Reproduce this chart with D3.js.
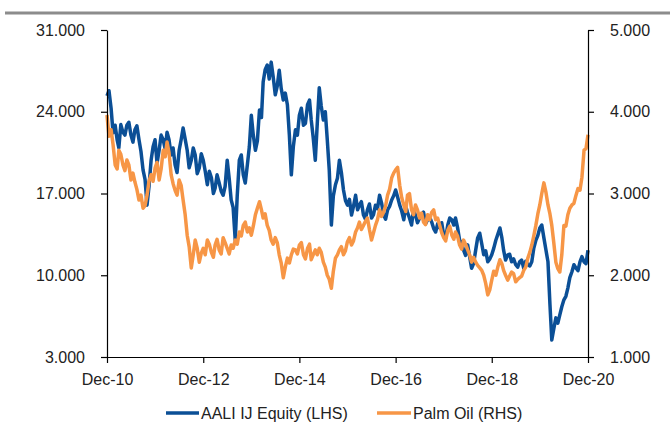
<!DOCTYPE html>
<html>
<head>
<meta charset="utf-8">
<script src="https://cdn.jsdelivr.net/npm/d3@7"></script>
<style>
  html, body { margin: 0; padding: 0; background: #fff; }
  svg { display: block; font-family: "Liberation Sans", Arial, sans-serif; }
</style>
</head>
<body>
<svg id="chart" width="670" height="429"></svg>
<script>
// Half-monthly closes (1st and 16th), Dec-2010 .. Dec-2020
const startMonth = "2010-12";
const aaliEquity = [
  25350, 25800, 24300, 22200, 22850, 21600, 20900, 22900, 22250, 22000,
  22850, 23100, 22000, 21400, 22450, 22800, 21600, 20600, 19000, 18200,
  16000, 17600, 19850, 21000, 21600, 19600, 20700, 22000, 21600, 20800,
  22250, 21600, 20300, 20900, 19450, 18800, 20700, 21600, 22600, 21700,
  20700, 19200, 19850, 20900, 20300, 18700, 19200, 20400, 19850, 18900,
  17750, 18900, 18350, 17000, 17450, 18600, 17900, 17200, 16850, 17600,
  19850, 18300, 16450, 15800, 13000, 16800, 19850, 20300, 18600, 17900,
  19450, 21000, 23700, 22000, 20700, 21500, 24150, 23500, 26550, 27600,
  28000, 26800, 28250, 27000, 25450, 26200, 27550, 26000, 25000, 25600,
  24600, 22000, 18600, 21000, 22450, 22000, 23700, 24300, 22850, 23000,
  24600, 25000, 23300, 21800, 19850, 23000, 26050, 24500, 23300, 24000,
  21600, 19000, 14300, 16800, 17750, 18300, 19850, 18800, 17300, 16400,
  16000, 16500, 15150, 15900, 16850, 15600, 16000, 16300, 15150, 14800,
  15600, 16100, 14900, 15200, 16000, 15700, 16850, 16200, 15150, 14800,
  15600, 15900, 16450, 16800, 17300, 16700, 16000, 15500, 14750, 15900,
  15400, 14900, 14300, 15600, 15150, 14500, 14900, 15100, 15400, 14400,
  14750, 15000, 14550, 14000, 13700, 14400, 14050, 14500, 13450, 13200,
  14300, 14900, 14750, 14300, 14900, 14100, 13000, 12800, 12150, 11700,
  12600, 11600, 10600, 11000, 12150, 13200, 13600, 12700, 11750, 12100,
  11150, 11400, 11750, 12300, 13000, 13500, 14050, 13200, 12150, 11300,
  11750, 11800, 11150, 11400, 10900, 10700, 11150, 11300, 10600, 11200,
  10900, 10800, 11150, 12300, 13000, 13400, 14050, 14300, 13200, 12200,
  11150, 7500, 4450, 5400, 6350, 5900, 6600, 7300, 7900, 8200,
  8900, 9800, 10300, 10900, 10600, 10400, 11150, 11600, 11150, 11000,
  12150
];
const palmOil = [
  3960, 3700, 3780, 3600, 3350, 3300, 3530, 3480, 3350, 3280,
  3410, 3350, 3165, 3250, 3140, 3050, 2920, 2980, 2820, 2850,
  2980, 3150, 3230, 3150, 3310, 3380, 3165, 3300, 3530, 3450,
  3630, 3500, 3230, 3120, 3040, 2980, 3165, 3100, 2920, 2750,
  2490, 2350, 2090, 2250, 2430, 2330, 2160, 2270, 2330, 2250,
  2430, 2380, 2280, 2220, 2370, 2440, 2310, 2260, 2460, 2400,
  2330, 2260, 2370, 2330, 2430, 2380, 2530, 2480, 2610, 2650,
  2530, 2580, 2490, 2600, 2740, 2820, 2900, 2800, 2700, 2750,
  2610, 2550, 2430, 2380, 2460, 2400, 2250, 2150, 1970, 2100,
  2210, 2150, 2250, 2320, 2310, 2260, 2370, 2400, 2250, 2200,
  2330, 2380, 2190, 2250, 2310, 2250, 2330, 2280, 2160, 2100,
  2000, 1950, 1840, 2050, 2210, 2250, 2310, 2350, 2250, 2300,
  2410, 2460, 2370, 2420, 2530, 2580, 2650, 2560, 2610, 2660,
  2700, 2560, 2430, 2520, 2610, 2680, 2800, 2720, 2770, 2850,
  2980, 3050, 3190, 3250, 3290, 3320, 3100, 2950, 2860, 2780,
  2980, 3000, 2800, 2740, 2860, 2800, 2700, 2760, 2650, 2620,
  2740, 2680, 2770, 2800, 2680, 2700, 2610, 2520, 2460, 2420,
  2550, 2600, 2490, 2440, 2530, 2480, 2370, 2320, 2430, 2380,
  2310, 2250, 2160, 2220, 2160, 2120, 2090, 2060, 2000, 1900,
  1760, 1820, 1940, 2050, 2000, 2100, 2190, 2140, 2060, 2000,
  1940, 1990, 2040, 2020, 1920, 1950, 1970, 1990, 2060, 2100,
  2210, 2280, 2370, 2480, 2610, 2750, 2860, 3000, 3130, 3020,
  2860, 2750, 2610, 2400, 2160, 2080, 2040, 2250, 2610, 2600,
  2740, 2820, 2860, 2880, 2980, 3060, 3040, 3200, 3530, 3550,
  3720
];
const xTickLabels = ["Dec-10", "Dec-12", "Dec-14", "Dec-16", "Dec-18", "Dec-20"];
const leftTicks = [3000, 10000, 17000, 24000, 31000];
const rightTicks = [1000, 2000, 3000, 4000, 5000];
const seriesNames = ["AALI IJ Equity (LHS)", "Palm Oil (RHS)"];
const seriesColors = ["#0b4f96", "#f79646"];

const svg = d3.select("#chart");
const plot = { left: 107, right: 588, top: 30, bottom: 357 };

const parseMonth = d3.timeParse("%Y-%m");
const parseTick = d3.timeParse("%b-%y");
const start = parseMonth(startMonth);
// even index = 1st of the month, odd index = 16th
const dates = aaliEquity.map((_, j) => {
  const m = d3.timeMonth.offset(start, Math.floor(j / 2));
  return j % 2 ? d3.timeDay.offset(m, 15) : m;
});
const tickDates = xTickLabels.map(parseTick);

const x = d3.scaleTime()
  .domain([tickDates[0], tickDates[tickDates.length - 1]])
  .range([plot.left, plot.right]);
const yL = d3.scaleLinear().domain([3000, 31000]).range([plot.bottom, plot.top]);
const yR = d3.scaleLinear().domain([1000, 5000]).range([plot.bottom, plot.top]);

const fmt = d => d3.format(",")(d).replace(/,/g, ".");

// header rule
svg.append("line")
  .attr("x1", 5).attr("x2", 670).attr("y1", 13).attr("y2", 13)
  .attr("stroke", "#8c8c8c").attr("stroke-width", 3);

// series lines: the secondary-axis series sits on top
const lineL = d3.line().x((d, i) => x(dates[i])).y(d => yL(d));
const lineR = d3.line().x((d, i) => x(dates[i])).y(d => yR(d));

svg.append("path").datum(aaliEquity)
  .attr("d", lineL).attr("fill", "none")
  .attr("stroke", seriesColors[0]).attr("stroke-width", 3.5)
  .attr("stroke-linejoin", "round");
svg.append("path").datum(palmOil)
  .attr("d", lineR).attr("fill", "none")
  .attr("stroke", seriesColors[1]).attr("stroke-width", 3.5)
  .attr("stroke-linejoin", "round");

// axes
function styleAxis(g) {
  g.selectAll("path.domain").attr("stroke", "#000").attr("stroke-width", 1.2);
  g.selectAll(".tick line").attr("stroke", "#000").attr("stroke-width", 1.2);
  g.selectAll("text")
    .attr("fill", "#222")
    .style("font-size", "16px")
    .style("font-family", "'Liberation Sans', Arial, sans-serif");
}

svg.append("g")
  .attr("transform", `translate(${plot.left},0)`)
  .call(d3.axisLeft(yL).tickValues(leftTicks).tickFormat(fmt)
    .tickSize(6).tickSizeOuter(0).tickPadding(16))
  .call(styleAxis);

svg.append("g")
  .attr("transform", `translate(${plot.right},0)`)
  .call(d3.axisRight(yR).tickValues(rightTicks).tickFormat(fmt)
    .tickSize(6).tickSizeOuter(0).tickPadding(16))
  .call(styleAxis);

svg.append("g")
  .attr("transform", `translate(0,${plot.bottom})`)
  .call(d3.axisBottom(x).tickValues(tickDates).tickFormat((d, i) => xTickLabels[i])
    .tickSize(6).tickSizeOuter(0).tickPadding(11))
  .call(styleAxis);

// legend
const legendY = 413;
const legendItems = [
  { x1: 166, x2: 199 },
  { x1: 377, x2: 411 }
];
legendItems.forEach((it, i) => {
  svg.append("line")
    .attr("x1", it.x1).attr("x2", it.x2)
    .attr("y1", legendY).attr("y2", legendY)
    .attr("stroke", seriesColors[i]).attr("stroke-width", 3.5);
  svg.append("text")
    .attr("x", it.x2 + 2).attr("y", legendY)
    .attr("dy", "0.35em")
    .attr("fill", "#222")
    .style("font-size", "16px")
    .text(seriesNames[i]);
});
</script>
</body>
</html>
